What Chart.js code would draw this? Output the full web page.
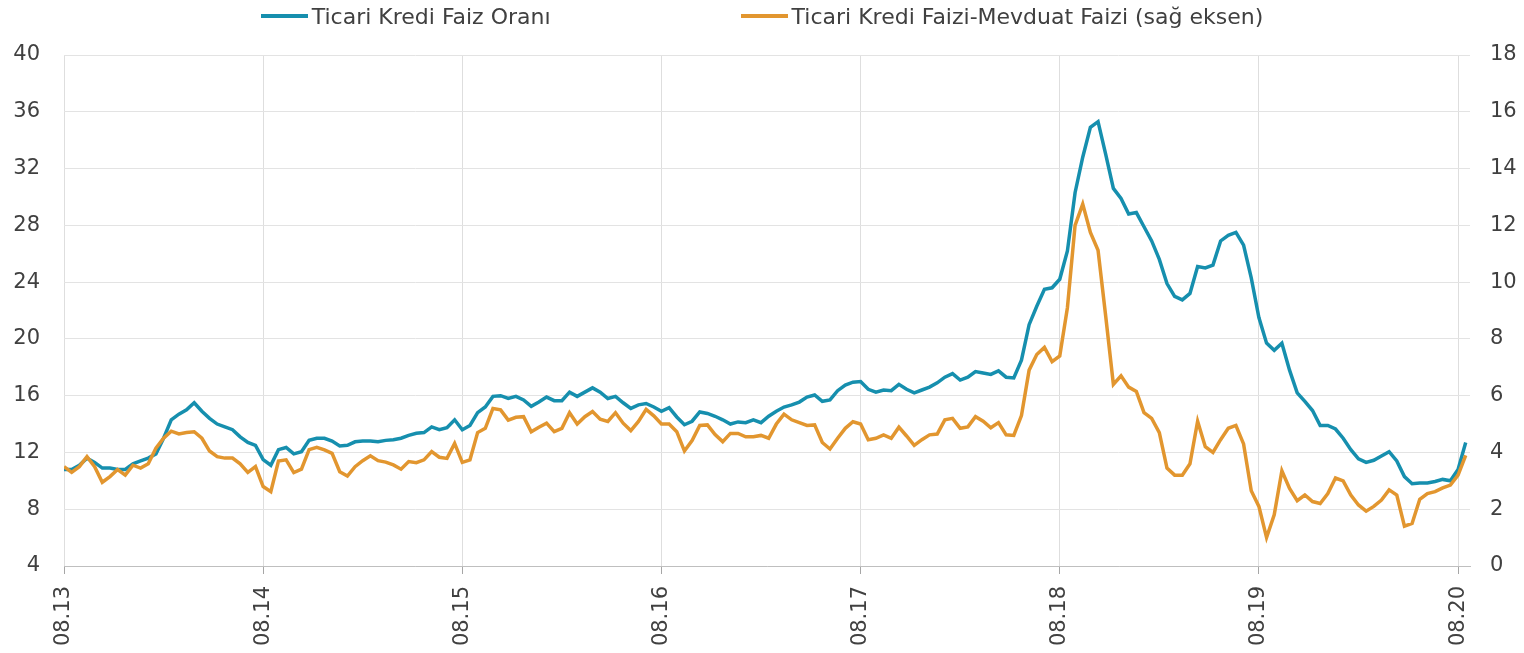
<!DOCTYPE html>
<html>
<head>
<meta charset="utf-8">
<script src="https://cdn.jsdelivr.net/npm/chart.js@4.4.1/dist/chart.umd.min.js"></script>
<style>
  body { margin: 0; background: #fff; }
  #wrap { position: relative; width: 1524px; height: 653px; }
  #legend { position: absolute; top: 1px; left: 0; width: 1524px; height: 30px; display: flex; justify-content: center; align-items: center; gap: 190px; font-family: 'DejaVu Sans'; font-size: 22px; color: #404040; }
  .item { display: flex; align-items: center; white-space: nowrap; }
  .swatch { display: inline-block; width: 47px; height: 4px; margin-right: 4px; }
</style>
</head>
<body>
<div id="wrap">
  <canvas id="myChart" width="1524" height="653"></canvas>
  <div id="legend"></div>
</div>
<script>
// one value every two weeks, starting 08.13
const yearLabels = ['08.13', '08.14', '08.15', '08.16', '08.17', '08.18', '08.19', '08.20'];
const seriesNames = ['Ticari Kredi Faiz Oranı', 'Ticari Kredi Faizi-Mevduat Faizi (sağ eksen)'];

const loanRate = [
  10.8, 10.8, 11.1, 11.6, 11.3, 10.9, 10.9, 10.8, 10.8, 11.2, 11.4, 11.6, 11.9, 13.0, 14.3, 14.7, 15.0, 15.5, 14.9, 14.4, 14.0, 13.8, 13.6, 13.1, 12.7, 12.5,
  11.5, 11.1, 12.2, 12.35, 11.9, 12.05, 12.85, 13.0, 13.0, 12.8, 12.45, 12.5, 12.75, 12.8, 12.8, 12.75, 12.85, 12.9, 13.0, 13.2, 13.35, 13.4, 13.8, 13.6, 13.75, 14.3,
  13.6, 13.9, 14.8, 15.2, 15.95, 16.0, 15.8, 15.95, 15.7, 15.25, 15.55, 15.9, 15.65, 15.65, 16.25, 15.95, 16.25, 16.55, 16.25, 15.8, 15.95, 15.5, 15.1, 15.35, 15.45, 15.2,
  14.9, 15.15, 14.5, 13.95, 14.2, 14.85, 14.75, 14.55, 14.3, 14.0, 14.15, 14.1, 14.3, 14.1, 14.55, 14.9, 15.2, 15.35, 15.55, 15.9, 16.05, 15.6, 15.7, 16.35, 16.75, 16.95,
  17.0, 16.45, 16.25, 16.4, 16.35, 16.8, 16.45, 16.2, 16.4, 16.6, 16.9, 17.3, 17.55, 17.1, 17.3, 17.7, 17.6, 17.5, 17.75, 17.3, 17.25, 18.5, 21.0, 22.3, 23.5, 23.6,
  24.2, 26.2, 30.3, 32.8, 34.9, 35.3, 33.0, 30.6, 29.9, 28.8, 28.9, 27.9, 26.9, 25.6, 23.9, 23.0, 22.75, 23.2, 25.1, 25.0, 25.2, 26.9, 27.3, 27.5, 26.6, 24.3,
  21.5, 19.7, 19.2, 19.7, 17.8, 16.2, 15.6, 14.95, 13.9, 13.9, 13.65, 13.0, 12.2, 11.55, 11.3, 11.45, 11.75, 12.05, 11.4, 10.3, 9.8, 9.85, 9.85, 9.95, 10.1, 10.0,
  10.8, 12.7
];

const spread = [
  3.5, 3.3, 3.5, 3.85, 3.5, 2.95, 3.15, 3.4, 3.2, 3.55, 3.45, 3.6, 4.15, 4.5, 4.75, 4.65, 4.7, 4.73, 4.5, 4.05, 3.85, 3.8, 3.8, 3.6, 3.3, 3.5,
  2.8, 2.62, 3.7, 3.74, 3.29, 3.41, 4.1, 4.18, 4.09, 3.97, 3.32, 3.17, 3.5, 3.71, 3.88, 3.71, 3.66, 3.56, 3.41, 3.68, 3.64, 3.74, 4.03, 3.83, 3.79, 4.32,
  3.65, 3.74, 4.7, 4.85, 5.55, 5.5, 5.14, 5.24, 5.26, 4.73, 4.89, 5.03, 4.73, 4.85, 5.4, 5.0, 5.26, 5.44, 5.17, 5.09, 5.4, 5.03, 4.77, 5.09, 5.52, 5.29,
  5.0, 5.0, 4.73, 4.05, 4.42, 4.95, 4.97, 4.63, 4.38, 4.67, 4.67, 4.55, 4.55, 4.6, 4.5, 5.0, 5.35, 5.15, 5.05, 4.95, 4.97, 4.35, 4.12, 4.5, 4.85, 5.08,
  5.0, 4.45, 4.5, 4.62, 4.5, 4.89, 4.58, 4.25, 4.45, 4.62, 4.65, 5.15, 5.2, 4.85, 4.9, 5.26, 5.1, 4.87, 5.05, 4.62, 4.6, 5.3, 6.9, 7.45, 7.7, 7.2,
  7.4, 9.1, 12.0, 12.75, 11.75, 11.12, 8.8, 6.4, 6.7, 6.3, 6.15, 5.4, 5.2, 4.7, 3.45, 3.2, 3.2, 3.6, 5.1, 4.2, 4.0, 4.45, 4.85, 4.95, 4.3, 2.65,
  2.1, 1.0, 1.8, 3.35, 2.73, 2.3, 2.5, 2.27, 2.2, 2.55, 3.1, 3.0, 2.5, 2.15, 1.93, 2.1, 2.32, 2.68, 2.5, 1.4, 1.5, 2.35, 2.55, 2.62, 2.75, 2.85,
  3.2, 3.9
];

const blue = '#168fae';
const orange = '#e2962f';
const perYear = 26;

function toPoints(values) {
  return values.map((v, i) => ({ x: i / perYear, y: v }));
}

// legend as html so the wide gap between items can be kept
const legendEl = document.getElementById('legend');
[[seriesNames[0], blue], [seriesNames[1], orange]].forEach(([name, col]) => {
  const item = document.createElement('span');
  item.className = 'item';
  const sw = document.createElement('span');
  sw.className = 'swatch';
  sw.style.background = col;
  item.appendChild(sw);
  item.appendChild(document.createTextNode(name));
  legendEl.appendChild(item);
});

const tickFont = { family: 'DejaVu Sans', size: 21 };

const ctx = document.getElementById('myChart');
new Chart(ctx, {
  type: 'line',
  data: {
    datasets: [{
      label: seriesNames[0],
      data: toPoints(loanRate),
      borderColor: blue,
      yAxisID: 'y',
      order: 1
    }, {
      label: seriesNames[1],
      data: toPoints(spread),
      borderColor: orange,
      yAxisID: 'y1',
      order: 0
    }]
  },
  options: {
    responsive: false,
    animation: false,
    layout: { padding: { top: 55, left: 0, right: 0, bottom: 0 } },
    elements: {
      point: { radius: 0 },
      line: { borderWidth: 3.5, tension: 0, fill: false }
    },
    plugins: {
      legend: { display: false },
      tooltip: { enabled: false }
    },
    scales: {
      x: {
        type: 'linear',
        min: 0,
        max: 7.06,
        afterFit: s => { s.height = 87; },
        afterBuildTicks: s => { s.ticks = yearLabels.map((_, i) => ({ value: i })); },
        grid: { color: '#dedede', tickColor: '#a6a6a6', tickLength: 8 },
        border: { color: '#bfbfbf' },
        ticks: {
          autoSkip: false,
          minRotation: 90,
          maxRotation: 90,
          padding: 12,
          color: '#404040',
          font: tickFont,
          callback: v => yearLabels[v]
        }
      },
      y: {
        position: 'left',
        min: 4,
        max: 40,
        afterFit: s => { s.width = 64; },
        grid: { color: '#e3e3e3', drawTicks: false },
        border: { display: false },
        ticks: { stepSize: 4, padding: 24, color: '#404040', font: tickFont }
      },
      y1: {
        position: 'right',
        min: 0,
        max: 18,
        afterFit: s => { s.width = 54; },
        grid: { drawOnChartArea: false, drawTicks: false },
        border: { display: false },
        ticks: { stepSize: 2, padding: 20, color: '#404040', font: tickFont }
      }
    }
  }
});
</script>
</body>
</html>
